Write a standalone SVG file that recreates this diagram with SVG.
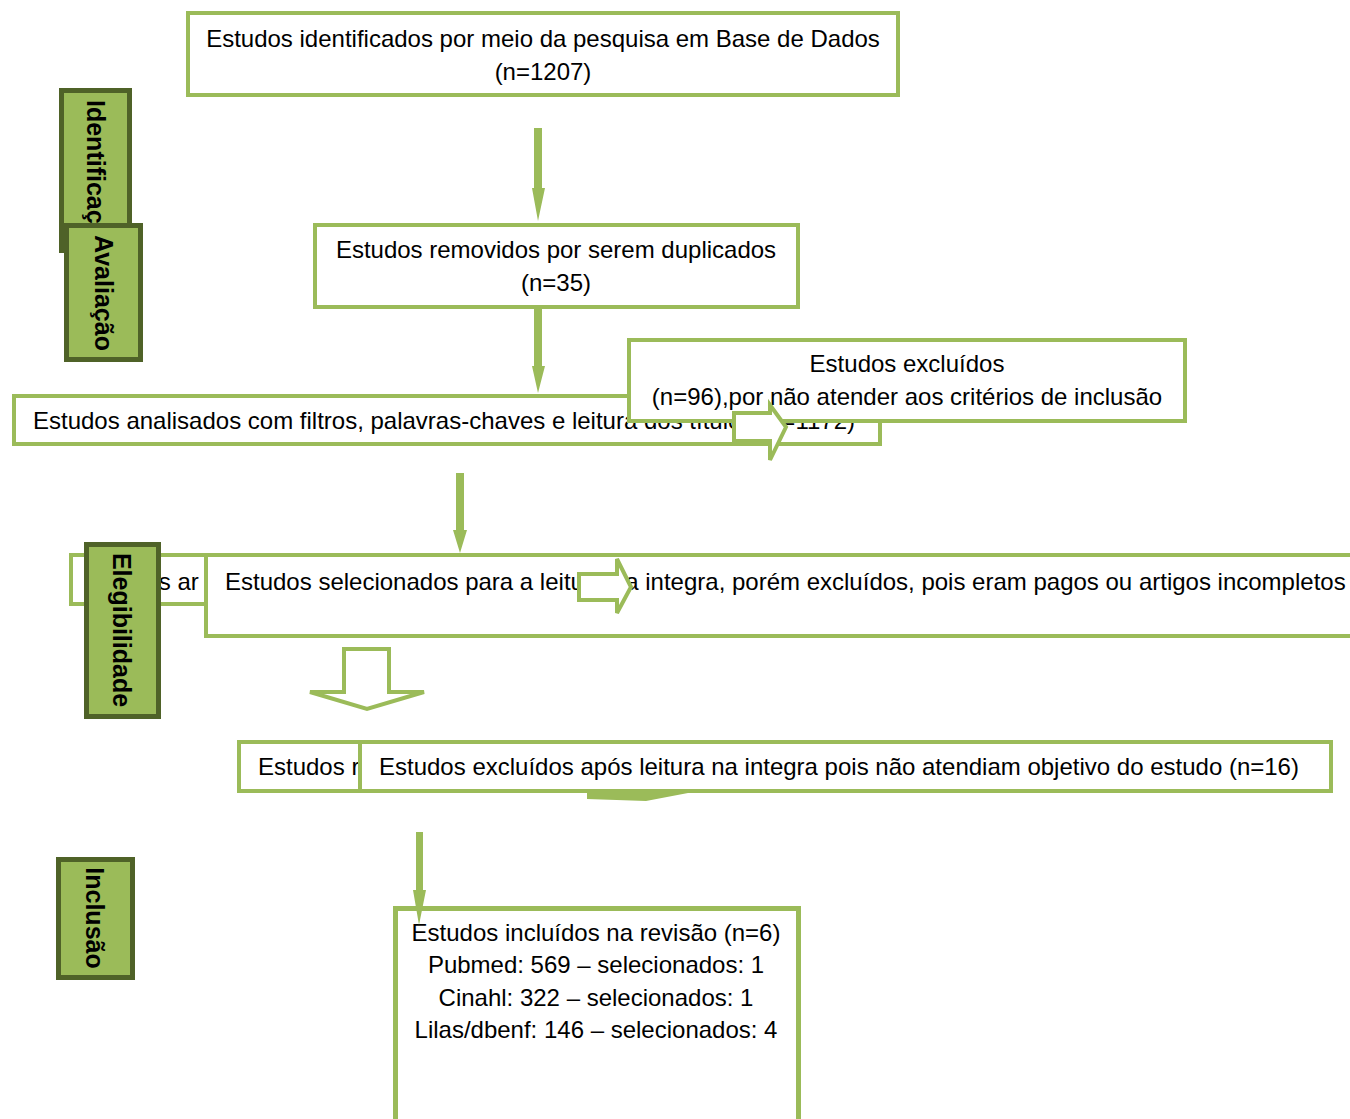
<svg xmlns="http://www.w3.org/2000/svg" width="1350" height="1119" viewBox="0 0 1350 1119">
<style>
.box{fill:#fff;stroke:#9BBB59;stroke-width:4}
.lab{fill:#9BBB59;stroke:#4F6228;stroke-width:5}
.t{font-family:"Liberation Sans",Arial,sans-serif;font-size:24px;fill:#000}
.lt{font-family:"Liberation Sans",Arial,sans-serif;font-size:25px;font-weight:bold;fill:#000}
.ar{fill:#9BBB59}
.blk{fill:#fff;stroke:#9BBB59;stroke-width:4}
</style>
<rect width="1350" height="1119" fill="#fff"/>

<g id="label-identificacao">
<rect class="lab" x="61.5" y="90.5" width="68" height="160"/>
<text class="lt" transform="translate(87,100) rotate(90)">Identificação</text>
</g>

<g id="node-identificados">
<rect class="box" x="188" y="13" width="710" height="82"/>
<text class="t" x="543" y="47" text-anchor="middle">Estudos identificados por meio da pesquisa em Base de Dados</text>
<text class="t" x="543" y="80" text-anchor="middle">(n=1207)</text>
</g>

<g id="label-avaliacao">
<rect class="lab" x="66.5" y="225.5" width="74" height="134"/>
<text class="lt" transform="translate(95,293) rotate(90)" text-anchor="middle">Avaliação</text>
</g>

<g id="node-duplicados">
<rect class="box" x="315" y="225" width="483" height="82"/>
<text class="t" x="556" y="258" text-anchor="middle">Estudos removidos por serem duplicados</text>
<text class="t" x="556" y="291" text-anchor="middle">(n=35)</text>
</g>

<g id="node-analisados">
<rect class="box" x="14" y="396" width="866" height="48"/>
<text class="t" x="33" y="429">Estudos analisados com filtros, palavras-chaves e leitura dos títulos (n=1172)</text>
</g>

<g id="node-excluidos96">
<rect class="box" x="629" y="340" width="556" height="81"/>
<text class="t" x="907" y="372" text-anchor="middle">Estudos excluídos</text>
<text class="t" x="907" y="405" text-anchor="middle">(n=96),por não atender aos critérios de inclusão</text>
</g>

<g id="node-analisados2">
<rect class="box" x="71" y="555" width="140" height="49"/>
<text class="t" x="84" y="590">Estudos ar</text>
</g>

<g id="node-pagos">
<rect class="box" x="206" y="555" width="1160" height="81"/>
<text class="t" x="225" y="590">Estudos selecionados para a leitura na integra, porém excluídos, pois eram pagos ou artigos incompletos</text>
</g>

<g id="label-elegibilidade">
<rect class="lab" x="86.5" y="544.5" width="72" height="172"/>
<text class="lt" transform="translate(113,630) rotate(90)" text-anchor="middle">Elegibilidade</text>
</g>

<g id="node-r">
<rect class="box" x="239" y="742" width="121" height="49"/>
<text class="t" x="258" y="775">Estudos r</text>
</g>

<g id="node-excluidos16">
<rect class="box" x="360" y="742" width="971" height="49"/>
<text class="t" x="379" y="775">Estudos excluídos após leitura na integra pois não atendiam objetivo do estudo (n=16)</text>
</g>

<g id="label-inclusao">
<rect class="lab" x="58.5" y="859.5" width="74" height="118"/>
<text class="lt" transform="translate(86,918) rotate(90)" text-anchor="middle">Inclusão</text>
</g>

<g id="node-incluidos">
<rect x="395.5" y="908.5" width="403" height="230" fill="#fff" stroke="#9BBB59" stroke-width="5"/>
<text class="t" x="596" y="941" text-anchor="middle">Estudos incluídos na revisão (n=6)</text>
<text class="t" x="596" y="973" text-anchor="middle">Pubmed: 569 – selecionados: 1</text>
<text class="t" x="596" y="1006" text-anchor="middle">Cinahl: 322 – selecionados: 1</text>
<text class="t" x="596" y="1038" text-anchor="middle">Lilas/dbenf: 146 – selecionados: 4</text>
</g>

<g id="connectors">
<polygon class="ar" points="534,128 542,128 542,188 545,188 538,221 532,188 534,188"/>
<polygon class="ar" points="534,309 542,309 542,366 545,366 538,393 532,366 534,366"/>
<polygon class="ar" points="456,473 464,473 464,530 467,530 460,553 453,530 456,530"/>
<polygon class="ar" points="416,832 423,832 423,890 426,890 419,925 413,890 416,890"/>
<polygon class="blk" points="734,413 770,413 770,405 786,427 770,460 770,441 734,441"/>
<polygon class="blk" points="579,574 617,574 617,559 631,587 617,613 617,600 579,600"/>
<polygon class="blk" points="344,649 389,649 389,692 424,692 367,709 310,692 344,692"/>
<polygon class="ar" points="587,793 688,793 646,801 587,799"/>
</g>
</svg>
